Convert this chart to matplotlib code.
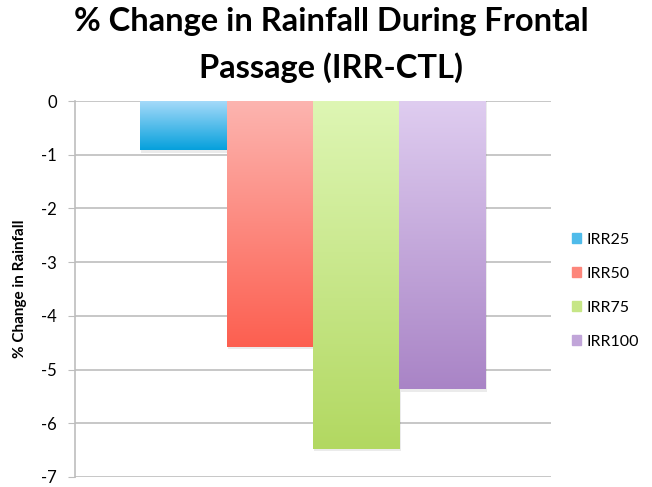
import matplotlib.pyplot as plt
import matplotlib.colors as mcolors
import matplotlib.patches as mpatches
import numpy as np

plt.rcParams['font.family'] = ['Lato', 'DejaVu Sans']
plt.rcParams['axes.unicode_minus'] = False

labels = ['IRR25', 'IRR50', 'IRR75', 'IRR100']
values = [-0.92, -4.58, -6.47, -5.37]
top_colors = ['#a8dbfa', '#fcb5b0', '#def6b4', '#dfcdf0']
bottom_colors = ['#05a0dc', '#fd5f50', '#b2d861', '#a984c6']

fig = plt.figure(figsize=(6.52, 4.87), dpi=100)
ax = fig.add_axes([75 / 652, 10 / 487, 476 / 652, 376 / 487])

width = 0.1817
offsets = (np.arange(len(values)) - 1.5) * width
grad = np.linspace(0, 1, 256).reshape(-1, 1)

handles = []
for x, v, lab, c1, c2 in zip(offsets, values, labels, top_colors, bottom_colors):
    # soft shadow
    ax.bar(x + 0.003, v - 0.04, width, color='#000000', alpha=0.08, zorder=2)
    b = ax.bar(x, v, width, color=c2, zorder=3, linewidth=0)[0]
    cmap = mcolors.LinearSegmentedColormap.from_list(lab, [c1, c2])
    im = ax.imshow(grad, cmap=cmap, aspect='auto', zorder=4,
                   extent=[x - width / 2, x + width / 2, v, 0], origin='upper')
    im.set_clip_path(b)
    handles.append(mpatches.Patch(color=cmap(0.55)))

ax.set_xlim(-0.5, 0.5)
ax.set_ylim(-7, 0)
ax.set_yticks(range(-7, 1))
ax.set_xticks([])
ax.yaxis.grid(True, color='#bdbdbd', linewidth=1.2, zorder=0)
ax.set_axisbelow(True)
for s in ['top', 'right', 'bottom']:
    ax.spines[s].set_visible(False)
ax.spines['left'].set_color('#bdbdbd')
ax.spines['left'].set_linewidth(1.2)
ax.tick_params(axis='y', length=5, color='#bdbdbd', labelsize=12, pad=8)

ax.set_ylabel('% Change in Rainfall', fontsize=11, fontweight='bold', labelpad=10)

fig.text(0.508, 0.955, '% Change in Rainfall During Frontal', ha='center', va='center',
         fontsize=23.5, fontweight='bold')
fig.text(0.508, 0.862, 'Passage (IRR-CTL)', ha='center', va='center',
         fontsize=23.5, fontweight='bold')

leg = ax.legend(handles=handles, labels=labels, loc='center left',
                bbox_to_anchor=(1.03, 0.495), frameon=False, fontsize=11.5,
                handlelength=0.6, handleheight=0.6, labelspacing=1.25,
                handletextpad=0.3, borderaxespad=0)

fig.savefig('out.png', dpi=100)
